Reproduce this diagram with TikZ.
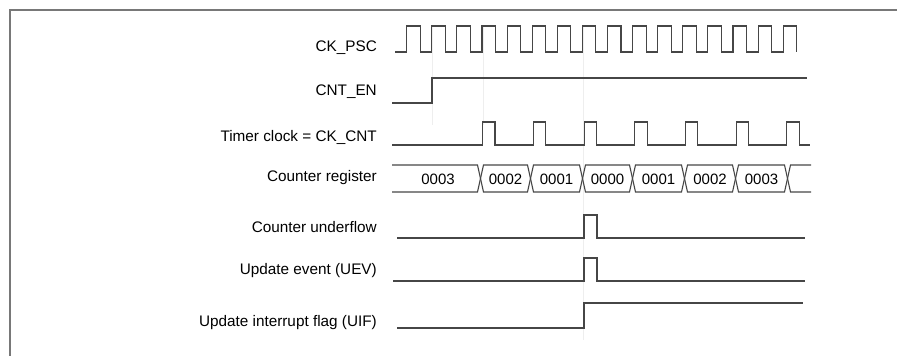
\documentclass[tikz,border=0pt]{standalone}
\usepackage{fontspec}
\setmainfont{Liberation Sans}
\usepackage{tikz}
\usetikzlibrary{positioning}
\definecolor{frameColor}{RGB}{120, 120, 120}
\definecolor{sigColor}{RGB}{70, 70, 70}
\definecolor{guideColor}{RGB}{238, 238, 238}
\tikzset{
    sig_line/.style={
        line width=1.1pt,
        draw=sigColor,
        line join=miter
    },
    sig_label/.style={
        anchor=east,
        inner sep=0pt,
        font=\fontsize{15.3}{17}\selectfont
    },
    bus_val/.style={
        inner sep=0pt,
        font=\fontsize{15}{17}\selectfont
    },
    guide_line/.style={
        line width=0.8pt,
        draw=guideColor
    }
}

\begin{document}
\begin{tikzpicture}[x=1pt, y=-1pt]
    \useasboundingbox (0,0) rectangle (897,356);

    % frame
    \draw[frameColor, line width=1.4pt] (10,356) -- (10,10) -- (897,10);

    % faint guides
    \draw[guide_line] (432,25) -- (432,125);
    \draw[guide_line] (483,25) -- (483,125);
    \draw[guide_line] (583,25) -- (583,340);

    % labels
    \node[sig_label] (lbl_psc) at (377,48) {CK\_PSC};
    \node[sig_label] (lbl_en)  at (377,92) {CNT\_EN};
    \node[sig_label] (lbl_cnt) at (377,137) {Timer clock = CK\_CNT};
    \node[sig_label] (lbl_reg) at (377,178) {Counter register};
    \node[sig_label] (lbl_udf) at (377,227) {Counter underflow};
    \node[sig_label] (lbl_uev) at (377,271) {Update event (UEV)};
    \node[sig_label] (lbl_uif) at (377,323) {Update interrupt flag (UIF)};

    % CK_PSC
    \draw[sig_line] (395,52)
        \foreach \k in {0,...,15} {
            -- ({406.7+25.1*\k},52) -- ({406.7+25.1*\k},26)
            -- ({420.2+25.1*\k},26) -- ({420.2+25.1*\k},52)
        };

    % CNT_EN
    \draw[sig_line] (392,103) -- (432,103) -- (432,78) -- (807,78);

    % CK_CNT
    \draw[sig_line] (392,145)
        \foreach \k in {0,...,6} {
            -- ({482.7+50.7*\k},145) -- ({482.7+50.7*\k},122)
            -- ({495+50.7*\k},122) -- ({495+50.7*\k},145)
        } -- (810,145);

    % counter register
    \draw[sig_line] (392,165) -- (477.5,165) -- (480.5,178.5) -- (477.5,192) -- (392,192);
    \foreach \a/\b/\v in {480.5/530.5/0002, 530.5/582.5/0001, 582.5/632.5/0000,
                          632.5/684.5/0001, 684.5/735.5/0002, 735.5/787.5/0003} {
        \draw[sig_line] (\a,178.5) -- (\a+3,165) -- (\b-3,165) -- (\b,178.5)
            -- (\b-3,192) -- (\a+3,192) -- cycle;
        \node[bus_val] (val_\a) at ({(\a+\b)/2},179) {\v};
    }
    \draw[sig_line] (811,165) -- (790.5,165) -- (787.5,178.5) -- (790.5,192) -- (811,192);
    \node[bus_val] (val_first) at (438,179) {0003};

    % counter underflow
    \draw[sig_line] (397,238) -- (584,238) -- (584,215) -- (597,215) -- (597,238) -- (805,238);

    % UEV
    \draw[sig_line] (393,281) -- (584,281) -- (584,258) -- (597,258) -- (597,281) -- (805,281);

    % UIF
    \draw[sig_line] (397,328) -- (584,328) -- (584,303) -- (803,303);
\end{tikzpicture}
\end{document}
